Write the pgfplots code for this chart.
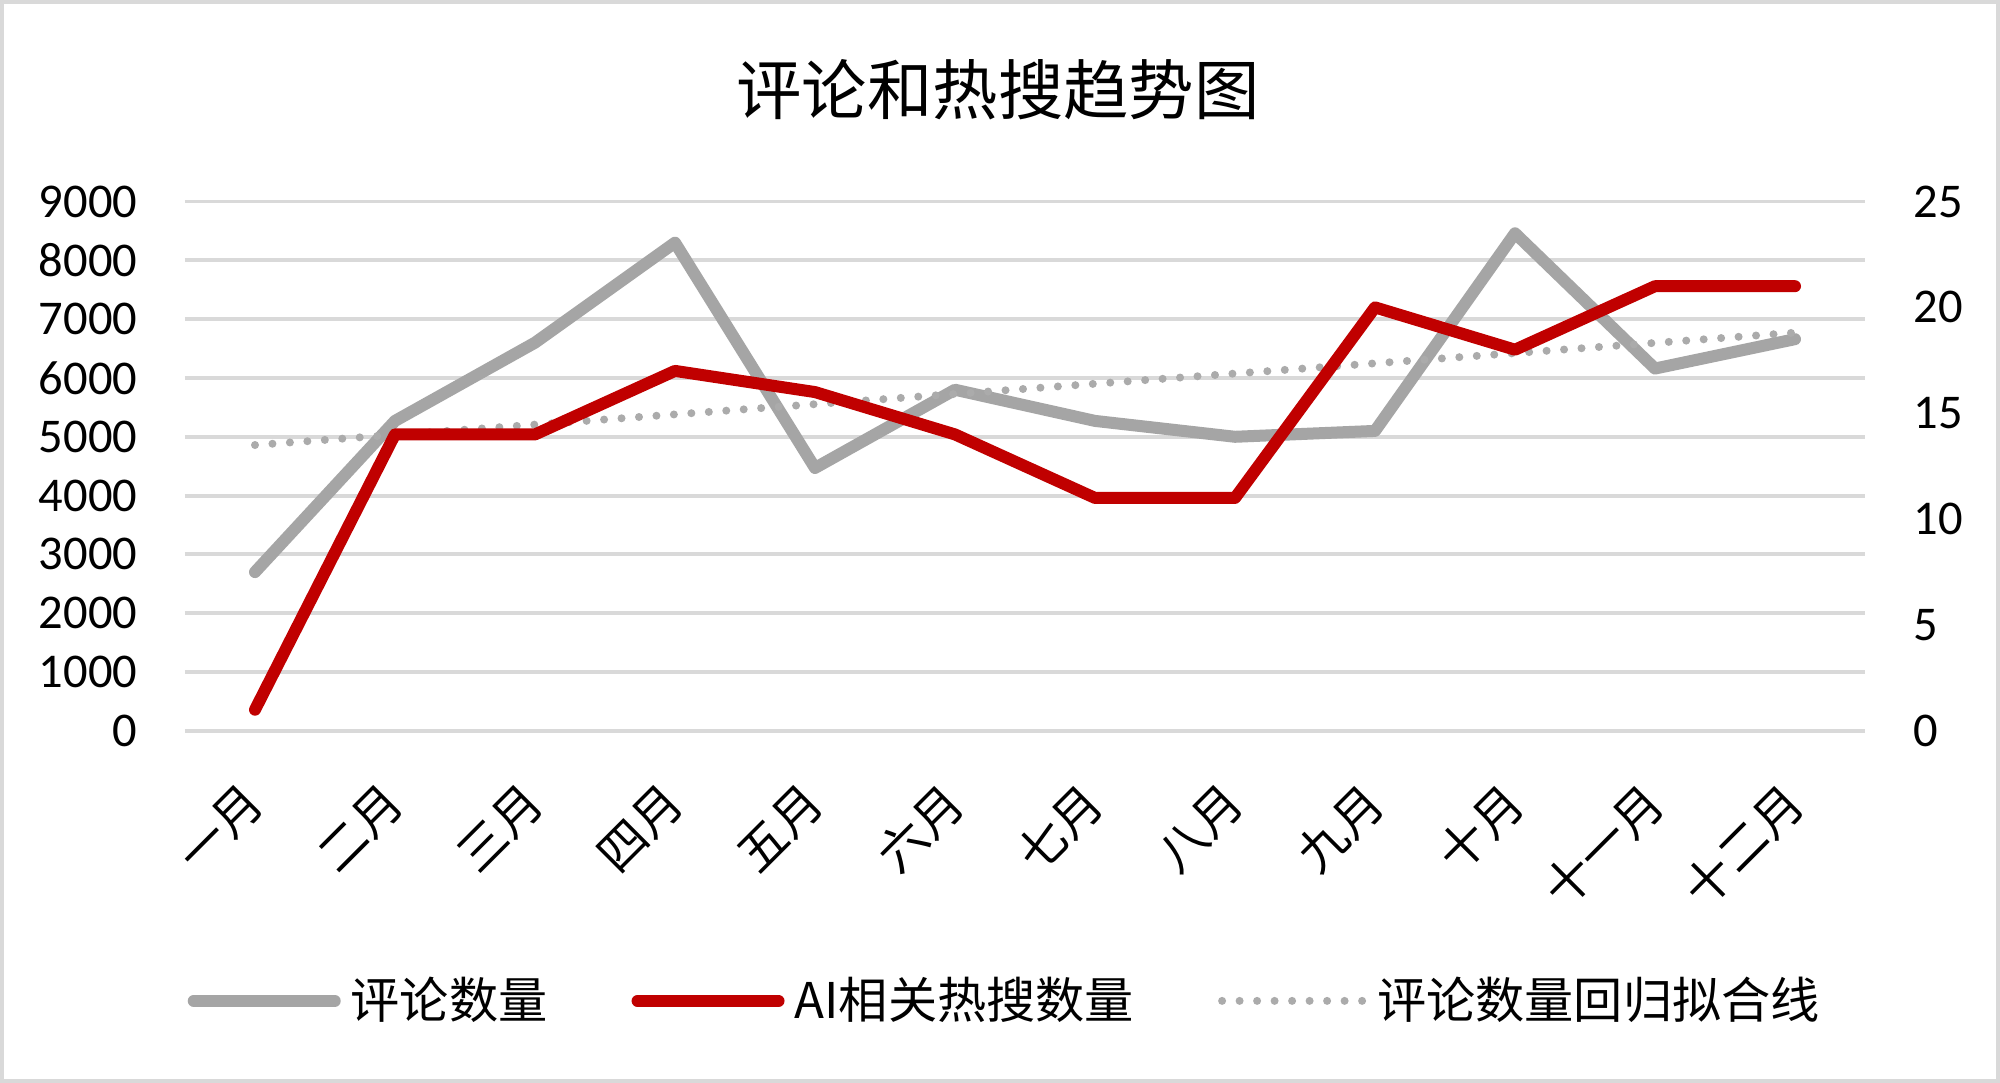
\documentclass[border=0pt]{standalone}
\usepackage{fontspec}
\setmainfont{Carlito}
\newfontfamily\cjk{Noto Sans CJK SC}
\usepackage{pgfplots}
\pgfplotsset{compat=1.18}
\definecolor{cgray}{HTML}{A5A5A5}
\definecolor{cred}{HTML}{C00000}
\definecolor{cgrid}{HTML}{D9D9D9}
\definecolor{ctrend}{HTML}{ABABAB}

\begin{document}
\begin{tikzpicture}
\useasboundingbox (0,0) rectangle (20,10.83);
\fill[white] (0,0) rectangle (20,10.83);
\draw[line width=0.04cm, cgrid] (0.02,0.02) rectangle (19.98,10.81);
\node[font=\cjk\fontsize{18.6}{22}\selectfont] at (9.98,9.93) {评论和热搜趋势图};

\pgfplotsset{common/.style={
  at={(1.85cm,3.521cm)}, anchor=south west, scale only axis,
  width=16.8cm, height=5.294cm,
  xmin=0.5, xmax=12.5,
  axis line style={draw=none}, major tick length=0pt,
  tick label style={font=\fontsize{13.8}{16}\selectfont, inner sep=0pt},
  /pgf/number format/assume math mode=true,
  scaled y ticks=false,
  yticklabel style={/pgf/number format/1000 sep={}},
  clip=false,
}}

\begin{axis}[common,
  ymin=0, ymax=9000, ytick distance=1000,
  ymajorgrids, grid style={line width=1.1pt, cgrid},
  xtick={1,2,3,4,5,6,7,8,9,10,11,12},
  xticklabels={一月,二月,三月,四月,五月,六月,七月,八月,九月,十月,十一月,十二月},
  xticklabel style={font=\cjk\fontsize{13.8}{16}\selectfont, rotate=45, anchor=east},
  xticklabel shift=0.63cm,
  yticklabel shift=0.47cm,
]
\addplot[cgray, line width=0.12cm, line cap=round, line join=round] coordinates {
(1,2700) (2,5270) (3,6600) (4,8300) (5,4470) (6,5800)
(7,5270) (8,5000) (9,5100) (10,8460) (11,6160) (12,6660)
};
\addplot[ctrend, line width=0.08cm, line cap=round, dash pattern=on 0pt off 0.175cm] coordinates {
(1,4860) (12,6770)
};
\end{axis}

\begin{axis}[common,
  ymin=0, ymax=25, ytick={0,5,10,15,20,25},
  yticklabel pos=right,
  xtick=\empty,
  yticklabel shift=0.48cm,
  legend columns=3,
  legend image code/.code={\draw[#1] (0.06cm,0cm) -- (1.47cm,0cm);},
  legend style={at={(0.0012,-0.510)}, anchor=west, draw=none, fill=none,
    inner sep=0pt, font=\cjk\fontsize{14}{16}\selectfont,
    /tikz/every even column/.append style={column sep=0.74cm},
    nodes={inner xsep=0.1cm, inner ysep=0pt}},
  legend cell align=left,
]
\addlegendimage{cgray, line width=0.12cm, line cap=round}
\addlegendentry{评论数量}
\addplot[cred, line width=0.12cm, line cap=round, line join=round] coordinates {
(1,1) (2,14) (3,14) (4,17) (5,16) (6,14)
(7,11) (8,11) (9,20) (10,18) (11,21) (12,21)
};
\addlegendentry{AI相关热搜数量}
\addlegendimage{ctrend, line width=0.08cm, line cap=round, dash pattern=on 0pt off 0.175cm}
\addlegendentry{评论数量回归拟合线}
\end{axis}
\end{tikzpicture}
\end{document}
